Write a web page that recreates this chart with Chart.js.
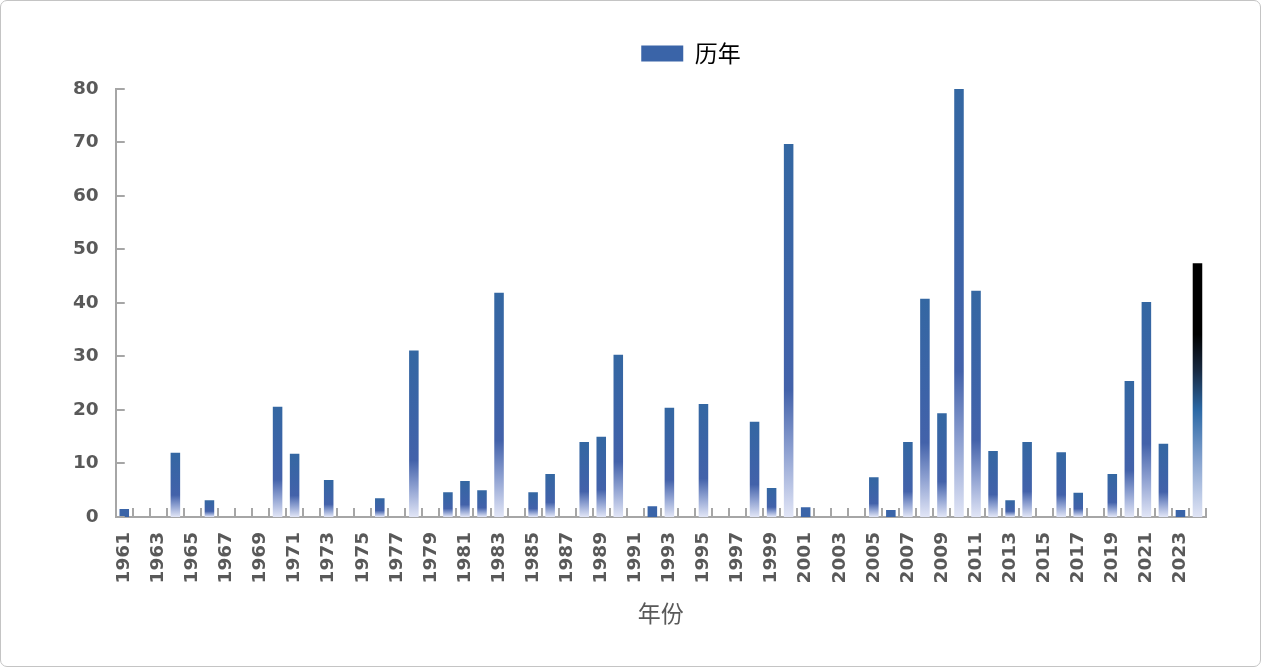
<!DOCTYPE html>
<html>
<head>
<meta charset="utf-8">
<title>历年</title>
<script src="https://cdn.jsdelivr.net/npm/chart.js@4/dist/chart.umd.min.js"></script>
<style>
  html, body { margin: 0; padding: 0; background: #fff; }
  .frame {
    width: 1261px; height: 667px; box-sizing: border-box;
    border: 1px solid #c4c4c4; border-radius: 7px; overflow: hidden;
  }
  .frame canvas { display: block; }
</style>
</head>
<body>
<div class="frame"><canvas id="yearChart"></canvas></div>
<script>
// ---- data ----
const years = [
  '1961','1962','1963','1964','1965','1966','1967','1968','1969','1970',
  '1971','1972','1973','1974','1975','1976','1977','1978','1979','1980',
  '1981','1982','1983','1984','1985','1986','1987','1988','1989','1990',
  '1991','1992','1993','1994','1995','1996','1997','1998','1999','2000',
  '2001','2002','2003','2004','2005','2006','2007','2008','2009','2010',
  '2011','2012','2013','2014','2015','2016','2017','2018','2019','2020',
  '2021','2022','2023','2024'
];
const values = [
  1.5, 0, 0, 12.0, 0, 3.1, 0, 0, 0, 20.6,
  11.8, 0, 6.9, 0, 0, 3.5, 0, 31.1, 0, 4.6,
  6.7, 5.0, 41.9, 0, 4.6, 8.0, 0, 14.0, 15.0, 30.3,
  0, 2.0, 20.4, 0, 21.1, 0, 0, 17.8, 5.4, 69.7,
  1.8, 0, 0, 0, 7.4, 1.3, 14.0, 40.8, 19.4, 80.0,
  42.3, 12.3, 3.1, 14.0, 0, 12.1, 4.5, 0, 8.0, 25.4,
  40.2, 13.7, 1.3, 47.4
];
const yTicks = [0, 10, 20, 30, 40, 50, 60, 70, 80];
const seriesName = '历年';
const axisTitle = '年份';

// ---- styles ----
const textGrey = '#595959';
const axisGrey = '#a6a6a6';
const tickFont = { family: "'DejaVu Sans', sans-serif", size: 18.5, weight: 'bold' };
const cjkFont = "'Noto Sans CJK SC', sans-serif";

// per-bar vertical gradient, like the office-style gradient fill
function barFill(context) {
  const chart = context.chart;
  const yScale = chart.scales.y;
  const v = context.raw;
  if (!yScale || !v) return '#3a64a8';
  if (v < 2.5) return '#3a64a8';
  const top = yScale.getPixelForValue(v);
  const base = yScale.getPixelForValue(0);
  const g = chart.ctx.createLinearGradient(0, top, 0, base);
  if (context.dataIndex === years.length - 1) {
    // last year drawn in its own dark-to-light ramp
    g.addColorStop(0, '#000000');
    g.addColorStop(0.28, '#000000');
    g.addColorStop(0.42, '#17283f');
    g.addColorStop(0.58, '#2c69a6');
    g.addColorStop(0.78, '#86a3cf');
    g.addColorStop(1, '#e0e4f5');
  } else {
    g.addColorStop(0, '#3467a2');
    g.addColorStop(0.45, '#3d63a8');
    g.addColorStop(0.66, '#4362aa');
    g.addColorStop(0.82, '#8c9fd0');
    g.addColorStop(1, '#e1e5f6');
  }
  return g;
}

// extra gap under the legend, and legend nudged right like the original
const legendTweak = {
  id: 'legendTweak',
  beforeInit(chart) {
    const fit = chart.legend.fit;
    chart.legend.fit = function () {
      fit.call(this);
      this.height += 14;
    };
  },
  afterLayout(chart) {
    chart.legend.left += 60;
    chart.legend.right += 60;
  }
};

// inward tick marks on both axes
const innerTicks = {
  id: 'innerTicks',
  afterDatasetsDraw(chart) {
    const { ctx } = chart;
    const x = chart.scales.x, y = chart.scales.y;
    const half = (x.getPixelForValue(1) - x.getPixelForValue(0)) / 2;
    ctx.save();
    ctx.strokeStyle = axisGrey;
    ctx.lineWidth = 2;
    ctx.beginPath();
    for (let i = 0; i <= years.length; i++) {
      const px = Math.round(x.getPixelForValue(i) - half);
      ctx.moveTo(px, y.bottom);
      ctx.lineTo(px, y.bottom - 9);
    }
    yTicks.forEach(t => {
      const py = Math.round(y.getPixelForValue(t));
      ctx.moveTo(x.left, py);
      ctx.lineTo(x.left + 9, py);
    });
    ctx.stroke();
    ctx.restore();
  }
};

const ctx = document.getElementById('yearChart').getContext('2d');
new Chart(ctx, {
  type: 'bar',
  data: {
    labels: years,
    datasets: [{
      label: seriesName,
      data: values,
      backgroundColor: barFill,
      borderWidth: 0,
      categoryPercentage: 1.0,
      barPercentage: 0.56
    }]
  },
  options: {
    responsive: true,
    maintainAspectRatio: false,
    animation: false,
    layout: { padding: { top: 31, left: 55, right: 54, bottom: 39 } },
    plugins: {
      tooltip: { enabled: false },
      legend: {
        position: 'top',
        labels: {
          boxWidth: 42,
          boxHeight: 16,
          padding: 10,
          color: textGrey,
          font: { family: cjkFont, size: 23 },
          generateLabels: (chart) => [{
            text: seriesName,
            fillStyle: '#3a64a8',
            strokeStyle: '#3a64a8',
            lineWidth: 0,
            datasetIndex: 0
          }]
        }
      }
    },
    scales: {
      x: {
        grid: { display: false, drawTicks: false },
        border: { display: true, color: axisGrey, width: 2 },
        ticks: {
          autoSkip: false,
          minRotation: 90,
          maxRotation: 90,
          padding: 15,
          color: textGrey,
          font: tickFont,
          callback: function (val, i) { return i % 2 === 0 ? this.getLabelForValue(val) : ''; }
        },
        title: {
          display: true,
          text: axisTitle,
          color: textGrey,
          font: { family: cjkFont, size: 23 },
          padding: { top: 1, bottom: 0 }
        }
      },
      y: {
        min: 0,
        max: 80,
        grid: { display: false, drawTicks: false },
        border: { display: true, color: axisGrey, width: 2 },
        ticks: {
          stepSize: 10,
          padding: 17,
          color: textGrey,
          font: tickFont
        }
      }
    }
  },
  plugins: [legendTweak, innerTicks]
});
</script>
</body>
</html>
